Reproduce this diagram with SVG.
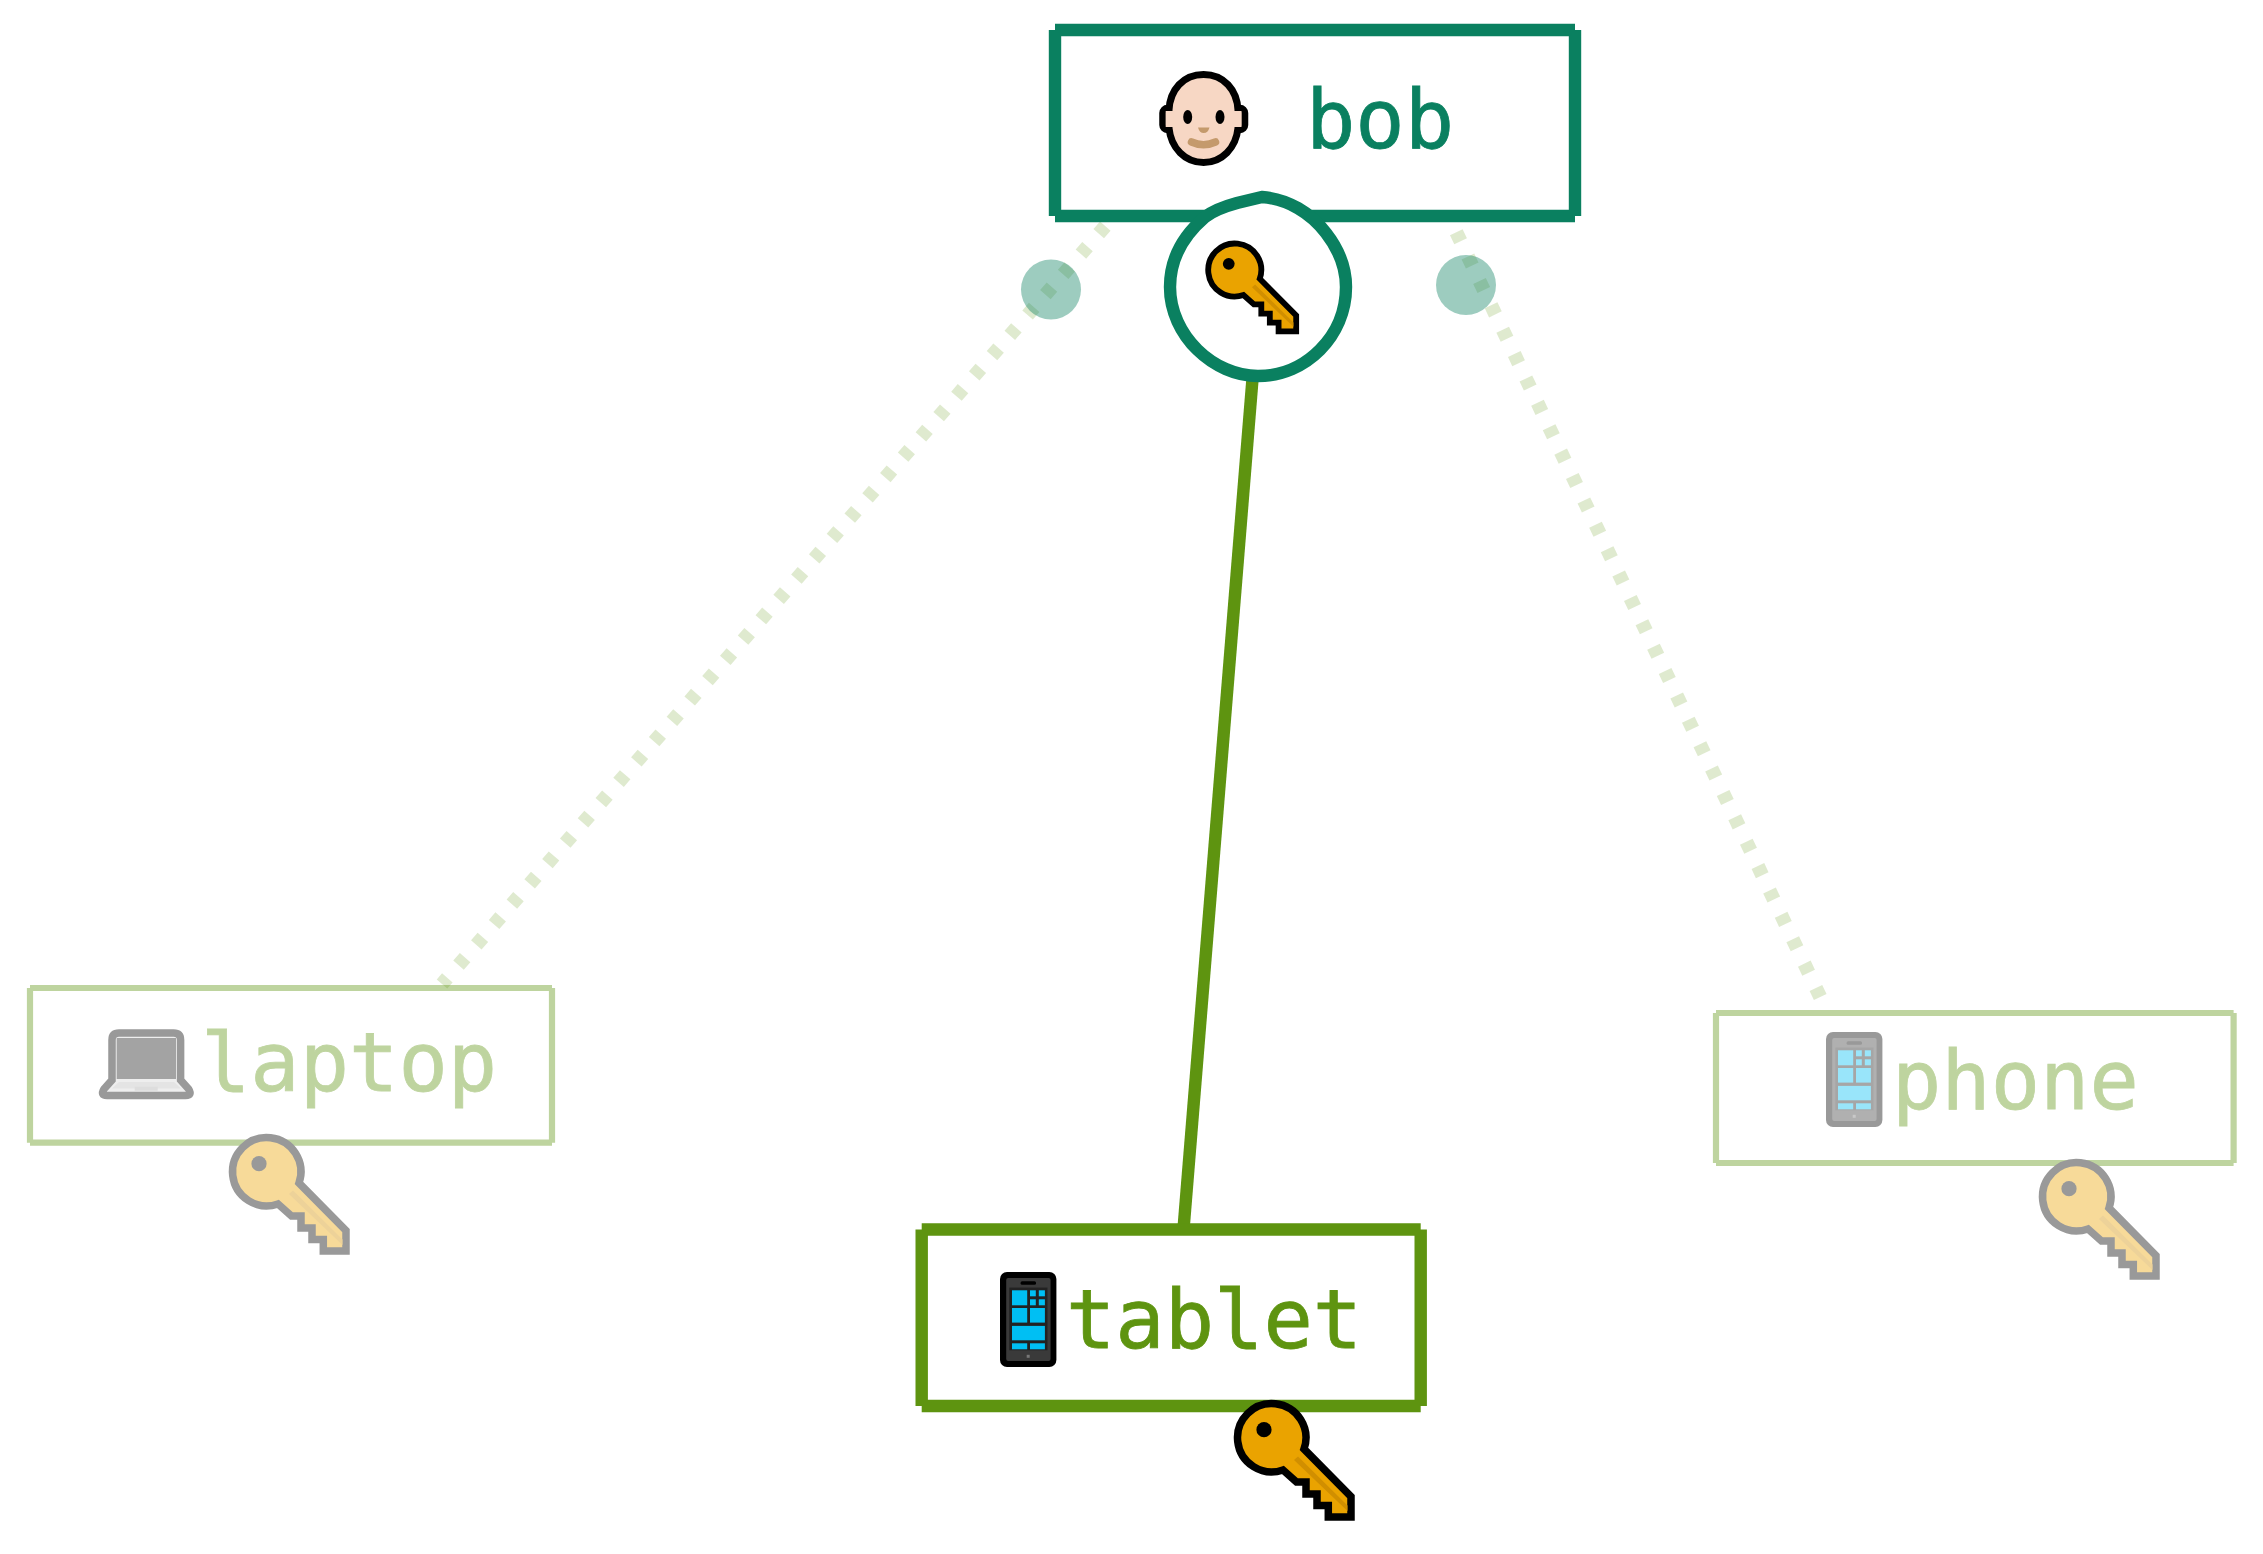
<svg xmlns="http://www.w3.org/2000/svg" width="2263" height="1554" viewBox="0 0 2263 1554">
<style>
text{font-family:"DejaVu Sans Mono","Liberation Mono",monospace;font-size:82px;stroke-width:.8}
.gt{fill:#5e9410;stroke:#5e9410}
.tt{fill:#0a8060;stroke:#0a8060}
.g{stroke:#5e9410;fill:none}
.t{stroke:#0a8060;fill:none}
.faded{opacity:.4}
.dot{fill:#0a8060;opacity:.4}
.thin{stroke-width:6.2}
.thick{stroke-width:12.4}
.dash{stroke-width:14;stroke-dasharray:10 17;opacity:.2}
.bg{fill:#fff}
.skin{fill:#f7d7c4}
</style>
<defs>
<g id="key">
<path d="M70 50L117 97.5V118H94.3V106.5H83V95H72V83H62.5L49 71A34.2 34.2 0 1 1 70 50Z" fill="#eaa300" stroke="#000" stroke-width="7.5"/>
<path d="M60 61L64 57.500L113.500 106.500V112Z" fill="#d18f00"/>
<circle cx="30" cy="30.7" r="7.600" fill="#000"/>
</g>
<g id="phoneicon">
<rect width="56.400" height="95" rx="7" fill="#000"/>
<rect x="6.200" y="6" width="44.400" height="83" rx="2" fill="#3a3a3a"/>
<rect x="20.600" y="9.300" width="15.400" height="3.400" rx="1.500" fill="#000"/>
<rect x="9.300" y="15.600" width="38.200" height="62.700" fill="#222"/>
<g fill="#00bff3">
<rect x="12" y="18.300" width="15.200" height="15"/>
<rect x="30" y="18.300" width="5.800" height="6"/><rect x="38.800" y="18.300" width="6.100" height="6"/>
<rect x="30" y="27.300" width="5.800" height="6"/><rect x="38.800" y="27.300" width="6.100" height="6"/>
<rect x="12" y="36" width="15.200" height="14.600"/><rect x="30" y="36" width="14.900" height="14.600"/>
<rect x="12" y="53.900" width="32.900" height="14.400"/>
<rect x="12" y="71.300" width="15.200" height="6"/><rect x="30" y="71.300" width="14.900" height="6"/>
</g>
<rect x="26.700" y="82.800" width="3" height="3" fill="#777"/>
</g>
</defs>
<g id="connectors">
<path class="g dash" d="M1105.300 226.200L442 984"/>
<path class="g dash" d="M1456.300 232.200L1824 1005"/>
<path class="g thick" d="M1252.500 379L1183.500 1229"/>
</g>
<g id="laptop" class="faded">
<path class="bg" d="M30 988H552V1142.700H30Z"/>
<path class="g thin" d="M30 988H552M552 988V1142.700M552 1142.700H30M30 1142.700V988"/>
<path d="M112 1080V1040q0-7 7-7h54.600q7 0 7 7V1080l8 9q4 6.500-3 6.500H107q-7 0-3-6.500z" fill="#d4d4d4" stroke="#000" stroke-width="7.500"/>
<rect x="116.700" y="1038" width="59.300" height="41" fill="#1a1a1a"/>
<path d="M119 1082H174L181 1088.500H112Z" fill="#bbb"/>
<path d="M134.700 1086.700H157.700V1090.700H134.700Z" fill="#aaa"/>
<text class="gt" x="201" y="1090.700">laptop</text>
<use href="#key" x="229" y="1133"/>
</g>
<g id="phone" class="faded">
<path class="bg" d="M1716 1013H2233.600V1163H1716Z"/>
<path class="g thin" d="M1716 1013H2233.600M2233.600 1013V1163M2233.600 1163H1716M1716 1163V1013"/>
<use href="#phoneicon" x="1826" y="1032"/>
<text class="gt" x="1892" y="1109">phone</text>
<use href="#key" x="2039" y="1158"/>
</g>
<g id="tablet">
<path class="bg" d="M921.700 1229.500H1420.700V1406H921.700Z"/>
<path class="g thick" d="M921.700 1229.500H1420.700M1420.700 1229.500V1406M1420.700 1406H921.700M921.700 1406V1229.500"/>
<use href="#phoneicon" x="1000" y="1272"/>
<text class="gt" x="1066" y="1348">tablet</text>
<use href="#key" x="1234" y="1399"/>
</g>
<g id="bob">
<path class="bg" d="M1055 30H1575V216H1055Z"/>
<path class="t thick" d="M1055 30H1575M1575 30V216M1575 216H1055M1055 216V30"/>
<rect class="skin" x="1162.500" y="108" width="12" height="22" rx="5" stroke="#000" stroke-width="6.500"/>
<rect class="skin" x="1233" y="108" width="12" height="22" rx="5" stroke="#000" stroke-width="6.500"/>
<path class="skin" d="M1203.600 74.500C1224 74.500 1237 90 1238 110V128C1236 148 1222 162.500 1203.600 162.500C1185 162.500 1171 148 1169 128V110C1170 90 1183 74.500 1203.600 74.500Z" stroke="#000" stroke-width="7"/>
<rect class="skin" x="1165.700" y="111" width="8" height="16"/>
<rect class="skin" x="1233.500" y="111" width="8" height="16"/>
<ellipse cx="1187.700" cy="117" rx="4.500" ry="7" fill="#000"/>
<ellipse cx="1220" cy="117" rx="4.500" ry="7" fill="#000"/>
<path d="M1198 127.500H1209.500Q1208 133 1203.700 133Q1199.500 133 1198 127.500Z" fill="#c49a6c"/>
<path d="M1191.500 142Q1203.500 147.500 1215.500 142" fill="none" stroke="#c49a6c" stroke-width="7.500" stroke-linecap="round"/>
<text class="tt" x="1306" y="148">bob</text>
<g id="bobkey">
<path class="t thick" style="fill:#fff" d="M1262 197C1288 199 1311 213 1326 233C1340 251 1346 268 1346 287C1346 336 1306 376 1258 376C1214 376 1170 336 1170 287C1170 258 1184 235 1205 217C1214 210 1226 206 1237 203L1262 197Z"/>
<use href="#key" transform="translate(1205.500 240) scale(.775)"/>
</g>
</g>
<circle class="dot" cx="1051" cy="289.500" r="30"/>
<circle class="dot" cx="1466" cy="285" r="30"/>
</svg>
